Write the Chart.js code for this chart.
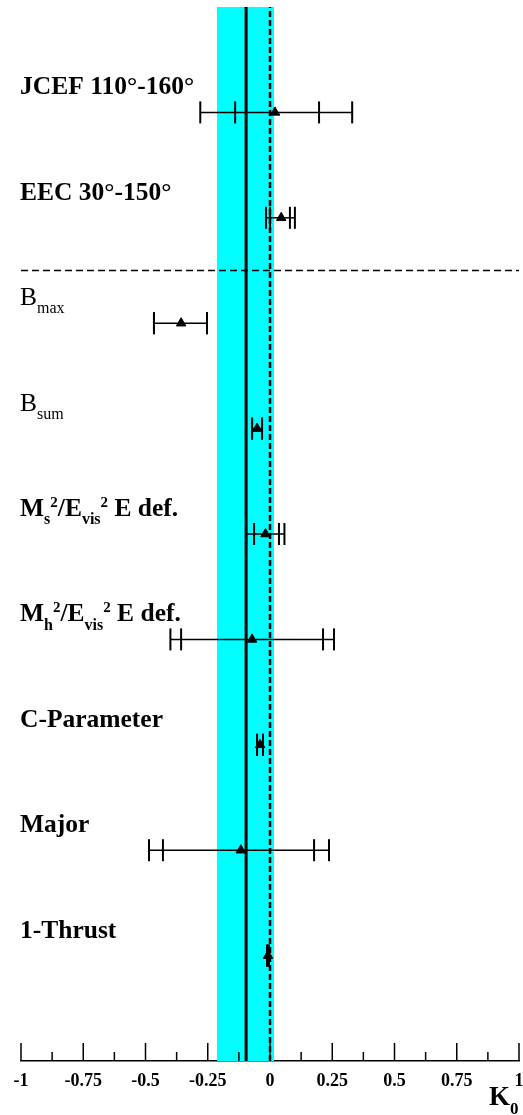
<!DOCTYPE html>
<html>
<head>
<meta charset="utf-8">
<script src="https://cdn.jsdelivr.net/npm/chart.js@4.4.1/dist/chart.umd.min.js"></script>
<style>
  html, body { margin: 0; padding: 0; background: #fff; }
  #wrap { position: relative; width: 523px; height: 1115px; }
</style>
</head>
<body>
<div id="wrap"><canvas id="k0Chart"></canvas></div>
<script>
// Observables, top to bottom. _{..} is a subscript, ^{..} a superscript.
const OBSERVABLES = [
  "JCEF 110°-160°",
  "EEC 30°-150°",
  "B_{max}",
  "B_{sum}",
  "M_{s}^{2}/E_{vis}^{2} E def.",
  "M_{h}^{2}/E_{vis}^{2} E def.",
  "C-Parameter",
  "Major",
  "1-Thrust",
];

// fitted K0 per observable
const K0_VALUES = [0.02, 0.045, -0.357, -0.052, -0.018, -0.072, -0.04, -0.117, -0.008];
// inner error bar (statistical)
const STAT_LOW = [-0.14, 0.0, -0.466, -0.072, -0.064, -0.357, -0.052, -0.43, -0.012];
const STAT_HIGH = [0.197, 0.08, -0.253, -0.032, 0.036, 0.213, -0.028, 0.177, -0.004];
// outer error bar (total)
const TOTAL_LOW = [-0.28, -0.016, -0.466, -0.072, -0.096, -0.40, -0.052, -0.486, -0.012];
const TOTAL_HIGH = [0.33, 0.10, -0.253, -0.032, 0.058, 0.257, -0.028, 0.237, -0.004];

// combined K0 and its uncertainty band
const K0_MEAN = -0.096;
const K0_BAND = [-0.213, 0.016];

const X_TICK_LABELS = ["-1", "-0.75", "-0.5", "-0.25", "0", "0.25", "0.5", "0.75", "1"];

// observables above this line come from a different analysis
const SEPARATOR_ROW = 7.5;

const SERIF = '"Liberation Serif", "Times New Roman", serif';
const PLAIN_LABELS = new Set(["B_{max}", "B_{sum}"]);

const rowOf = (i) => OBSERVABLES.length - i;

function drawRich(ctx, markup, x, y, bold, size = 25.5) {
  const weight = bold ? "bold " : "";
  const small = Math.round(size * 0.63);
  const parts = markup.split(/([_^]\{[^}]*\})/).filter(Boolean);
  for (const p of parts) {
    let fs = size, dy = 0, text = p;
    if (p.startsWith("_{")) {
      fs = small; dy = size * 0.32; text = p.slice(2, -1);
    } else if (p.startsWith("^{")) {
      fs = small - 1; dy = -size * 0.36; text = p.slice(2, -1);
    }
    ctx.font = `${weight}${fs}px ${SERIF}`;
    ctx.fillText(text, x, y + dy);
    x += ctx.measureText(text).width;
  }
}

const bandPlugin = {
  id: "band",
  beforeDatasetsDraw(chart) {
    const { ctx, chartArea, scales: { x } } = chart;
    const x0 = x.getPixelForValue(K0_BAND[0]);
    const x1 = x.getPixelForValue(K0_BAND[1]);
    ctx.save();
    ctx.fillStyle = "#00ffff";
    ctx.fillRect(x0, chartArea.top, x1 - x0, chartArea.bottom - chartArea.top);
    ctx.restore();
  },
};

const decorPlugin = {
  id: "decor",
  afterDraw(chart) {
    const { ctx, chartArea, scales: { x, y } } = chart;
    ctx.save();
    ctx.fillStyle = "#000";
    ctx.textBaseline = "alphabetic";
    ctx.textAlign = "left";

    OBSERVABLES.forEach((name, i) => {
      const py = y.getPixelForValue(rowOf(i)) - 18;
      drawRich(ctx, name, 20, py, !PLAIN_LABELS.has(name));
    });

    // inward ticks on the bottom axis
    ctx.strokeStyle = "#000";
    ctx.lineWidth = 1.5;
    const base = chartArea.bottom;
    const vals = x.ticks.map((t) => t.value);
    vals.forEach((v, k) => {
      const px = x.getPixelForValue(v);
      ctx.beginPath();
      ctx.moveTo(px, base);
      ctx.lineTo(px, base - 18);
      ctx.stroke();
      if (k < vals.length - 1) {
        const pm = x.getPixelForValue((v + vals[k + 1]) / 2);
        ctx.beginPath();
        ctx.moveTo(pm, base);
        ctx.lineTo(pm, base - 9);
        ctx.stroke();
      }
    });

    // axis title
    drawRich(ctx, "K_{0}", 489, 1105, true, 27);
    ctx.restore();
  },
};

const datasets = [];

// combined value and zero reference
datasets.push({
  data: [{ x: K0_MEAN, y: 0 }, { x: K0_MEAN, y: 10 }],
  showLine: true, borderColor: "#000", borderWidth: 3, pointRadius: 0,
});
datasets.push({
  data: [{ x: 0, y: 0 }, { x: 0, y: 10 }],
  showLine: true, borderColor: "#000", borderWidth: 2.5, borderDash: [6, 3], pointRadius: 0,
});
datasets.push({
  data: [{ x: -1, y: SEPARATOR_ROW }, { x: 1, y: SEPARATOR_ROW }],
  showLine: true, borderColor: "#000", borderWidth: 1.5, borderDash: [7, 4], pointRadius: 0,
});

// horizontal error bar lines
OBSERVABLES.forEach((_, i) => {
  datasets.push({
    data: [{ x: TOTAL_LOW[i], y: rowOf(i) }, { x: TOTAL_HIGH[i], y: rowOf(i) }],
    showLine: true, borderColor: "#000", borderWidth: 1.5, pointRadius: 0,
  });
});

// error bar caps
const caps = [];
OBSERVABLES.forEach((_, i) => {
  for (const v of [STAT_LOW[i], STAT_HIGH[i], TOTAL_LOW[i], TOTAL_HIGH[i]]) {
    caps.push({ x: v, y: rowOf(i) });
  }
});
datasets.push({
  data: caps,
  pointStyle: "line", rotation: 90, pointRadius: 11,
  borderColor: "#000", borderWidth: 2,
});

// measured points
datasets.push({
  data: K0_VALUES.map((v, i) => ({ x: v, y: rowOf(i) })),
  pointStyle: "triangle", pointRadius: 5.5,
  backgroundColor: "#000", borderColor: "#000", borderWidth: 1,
});

new Chart(document.getElementById("k0Chart"), {
  type: "scatter",
  data: { datasets },
  options: {
    animation: false,
    responsive: true,
    maintainAspectRatio: false,
    events: [],
    layout: { autoPadding: false, padding: { top: 7, left: 21, right: 4, bottom: 0 } },
    plugins: { legend: { display: false }, tooltip: { enabled: false } },
    scales: {
      x: {
        type: "linear",
        min: -1,
        max: 1,
        afterFit: (scale) => {
          scale.height = 54;
          scale.paddingLeft = 0;
          scale.paddingRight = 0;
          scale.paddingTop = 0;
          scale.paddingBottom = 0;
        },
        grid: { display: false, drawTicks: false },
        border: { display: true, color: "#000", width: 1.5 },
        ticks: {
          stepSize: 0.25,
          padding: 10,
          color: "#000",
          font: { family: SERIF, size: 18, weight: "bold" },
          callback: (value) => X_TICK_LABELS[Math.round((value + 1) / 0.25)],
          maxRotation: 0,
          autoSkip: false,
        },
      },
      y: { type: "linear", min: 0, max: 10, display: false },
    },
  },
  plugins: [bandPlugin, decorPlugin],
});
</script>
</body>
</html>
